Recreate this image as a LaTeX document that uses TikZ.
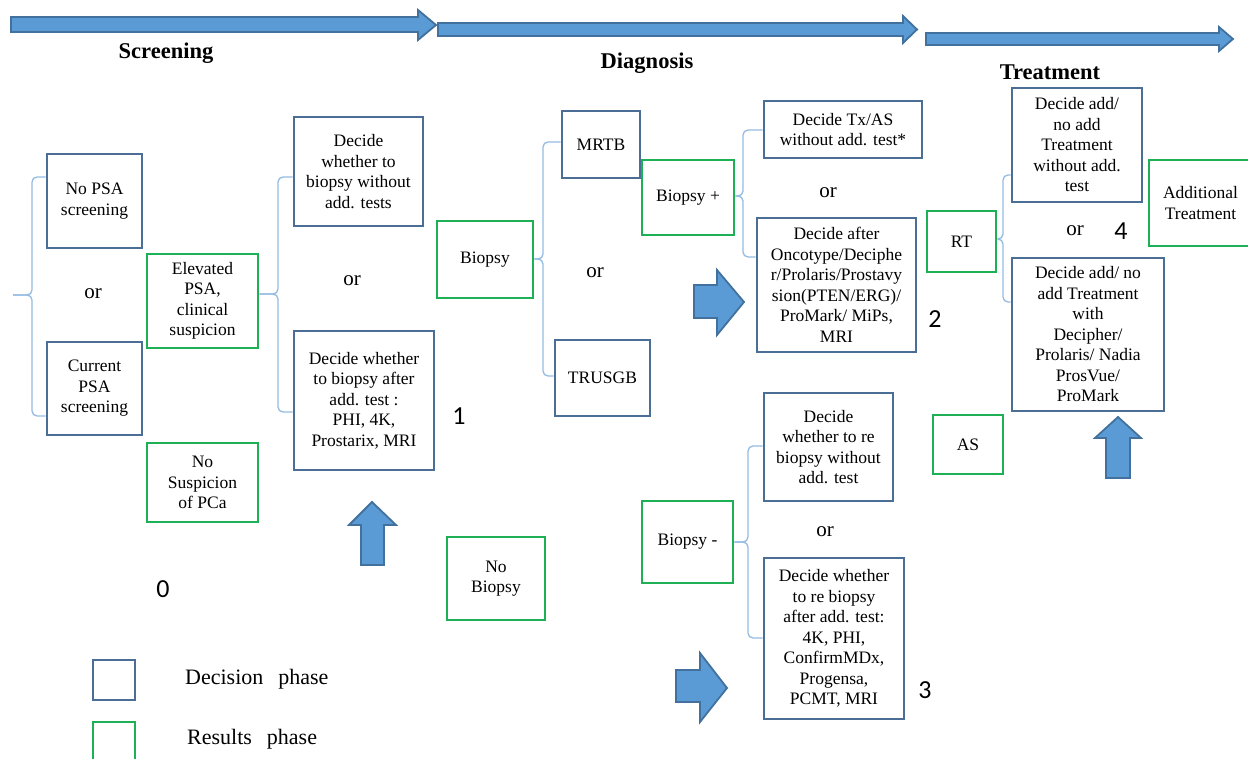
\documentclass[tikz,border=0pt]{standalone}
\usepackage{fontspec}
\setmainfont{Liberation Serif}
\newfontfamily\numfamily{Carlito}
\definecolor{decblue}{HTML}{4A6E96}
\definecolor{resgreen}{HTML}{1DB054}
\definecolor{brcblue}{HTML}{94BBE2}
\definecolor{arrfill}{HTML}{5B9BD5}
\definecolor{arredge}{HTML}{41719C}
\newcommand{\boxfs}{\fontsize{17.5}{20.5}\selectfont}
\newcommand{\orfs}{\fontsize{21}{24}\selectfont}
\newcommand{\titlefs}{\fontsize{22.5}{27}\selectfont\bfseries}
\newcommand{\numfs}{\numfamily\fontsize{26}{30}\selectfont}
\newcommand{\legfs}{\fontsize{22}{26}\selectfont}
\tikzset{
  pbox/.style={line width=2.7pt, inner sep=0pt, align=center, font=\boxfs},
  dbox/.style={pbox, draw=decblue},
  rbox/.style={pbox, draw=resgreen},
  brc/.style={draw=brcblue, line width=1.3pt, rounded corners=5pt},
  orlab/.style={font=\orfs, inner sep=0pt},
  numlab/.style={font=\numfs, inner sep=0pt},
  titlelab/.style={font=\titlefs, inner sep=0pt},
  leglab/.style={font=\legfs, inner sep=0pt, anchor=west},
  barrow/.style={fill=arrfill, draw=arredge, line width=1.8pt, line join=miter},
}
\begin{document}
\begin{tikzpicture}[x=1pt,y=-1pt]
\useasboundingbox (0,0) rectangle (1248,759);
% top phase arrows
\draw[barrow] (11,17) -- (418,17) -- (418,10) -- (436,25) -- (418,40) -- (418,32) -- (11,32) -- cycle;
\draw[barrow] (438,23) -- (903,23) -- (903,16) -- (917,29.5) -- (903,43) -- (903,36) -- (438,36) -- cycle;
\draw[barrow] (926,33) -- (1219,33) -- (1219,27) -- (1233,39) -- (1219,51) -- (1219,45) -- (926,45) -- cycle;
\node[titlelab] (tscr) at (166,53) {Screening};
\node[titlelab] (tdia) at (647,63) {Diagnosis};
\node[titlelab] (ttre) at (1050,72) {Treatment};
% boxes
\node[dbox, minimum width=95, minimum height=94] (nopsa) at (94.5,201) {No PSA\\screening};
\node[dbox, minimum width=95, minimum height=93] (curpsa) at (94.5,388.5) {Current\\PSA\\screening};
\node[rbox, minimum width=111, minimum height=94] (elev) at (202.5,301) {Elevated\\PSA,\\clinical\\suspicion};
\node[rbox, minimum width=111, minimum height=79] (nosusp) at (202.5,482.5) {No\\Suspicion\\of PCa};
\node[dbox, minimum width=129, minimum height=109] (dw1) at (358.5,171.5) {Decide\\whether to\\biopsy without\\add. tests};
\node[dbox, minimum width=140, minimum height=139] (dw2) at (364,400.5) {Decide whether\\to biopsy after\\add. test :\\PHI, 4K,\\Prostarix, MRI};
\node[rbox, minimum width=96, minimum height=77] (biopsy) at (485,259.5) {Biopsy};
\node[dbox, minimum width=78, minimum height=67] (mrtb) at (601,144.5) {MRTB};
\node[dbox, minimum width=95, minimum height=76] (trusgb) at (602.5,378) {TRUSGB};
\node[rbox, minimum width=92, minimum height=75] (bplus) at (688,197.5) {Biopsy +};
\node[dbox, minimum width=158, minimum height=57] (dtx) at (843,129.5) {Decide Tx/AS\\without add. test*};
\node[dbox, minimum width=159, minimum height=134] (dafter) at (836.5,285) {Decide after\\Oncotype/Deciphe\\r/Prolaris/Prostavy\\sion(PTEN/ERG)/\\ProMark/ MiPs,\\MRI};
\node[rbox, minimum width=69, minimum height=61] (rt) at (961.5,241.5) {RT};
\node[dbox, minimum width=130, minimum height=114] (dadd1) at (1077,145) {Decide add/\\no add\\Treatment\\without add.\\test};
\node[rbox, minimum width=103, minimum height=86] (addt) at (1200.5,203) {Additional\\Treatment};
\node[dbox, minimum width=152, minimum height=153] (dadd2) at (1088,334.5) {Decide add/ no\\add Treatment\\with\\Decipher/\\Prolaris/ Nadia\\ProsVue/\\ProMark};
\node[rbox, minimum width=70, minimum height=59] (as) at (968,444.5) {AS};
\node[dbox, minimum width=129, minimum height=108] (drb1) at (828.5,447) {Decide\\whether to re\\biopsy without\\add. test};
\node[dbox, minimum width=140, minimum height=161] (drb2) at (834,638.5) {Decide whether\\to re biopsy\\after add. test:\\4K, PHI,\\ConfirmMDx,\\Progensa,\\PCMT, MRI};
\node[rbox, minimum width=91, minimum height=82] (bminus) at (687.5,542) {Biopsy -};
\node[rbox, minimum width=98, minimum height=83] (nobiopsy) at (496,578.5) {No\\Biopsy};
% or labels
\node[orlab] (or1) at (93,294) {or};
\node[orlab] (or2) at (352,281) {or};
\node[orlab] (or3) at (595,273) {or};
\node[orlab] (or4) at (828,193) {or};
\node[orlab] (or5) at (1075,231) {or};
\node[orlab] (or6) at (825,532) {or};
% numbers
\node[numlab] (n0) at (163,589) {0};
\node[numlab] (n1) at (459,416) {1};
\node[numlab] (n2) at (935,319) {2};
\node[numlab] (n3) at (925,690) {3};
\node[numlab] (n4) at (1121,231) {4};
% braces
\coordinate (tip0) at (13,295);
\draw[brc] (tip0) -- (32,295) |- (nopsa.west |- 0,177);
\draw[brc] (tip0) -- (32,295) |- (curpsa.west |- 0,416);
\draw[brc] (elev.east |- 0,294) -- (278,294) |- (dw1.west |- 0,177);
\draw[brc] (elev.east |- 0,294) -- (278,294) |- (dw2.west |- 0,412);
\draw[brc] (biopsy.east |- 0,259) -- (543,259) |- (mrtb.west |- 0,142);
\draw[brc] (biopsy.east |- 0,259) -- (543,259) |- (trusgb.west |- 0,376);
\draw[brc] (bplus.east |- 0,196) -- (743,196) |- (dtx.west |- 0,130);
\draw[brc] (bplus.east |- 0,196) -- (743,196) |- (dafter.west |- 0,257);
\draw[brc] (rt.east |- 0,239) -- (1003,239) |- (dadd1.west |- 0,175);
\draw[brc] (rt.east |- 0,239) -- (1003,239) |- (dadd2.west |- 0,302);
\draw[brc] (bminus.east |- 0,542) -- (748,542) |- (drb1.west |- 0,446);
\draw[brc] (bminus.east |- 0,542) -- (748,542) |- (drb2.west |- 0,638);
% block arrows
\draw[barrow] (372,502) -- (396,525) -- (384,525) -- (384,565) -- (361,565) -- (361,525) -- (349,525) -- cycle;
\draw[barrow] (744,302) -- (717,335) -- (717,318) -- (694,318) -- (694,285) -- (717,285) -- (717,270) -- cycle;
\draw[barrow] (727,688) -- (700,722) -- (700,702) -- (676,702) -- (676,670) -- (700,670) -- (700,653) -- cycle;
\draw[barrow] (1118,417) -- (1141,438) -- (1130,438) -- (1130,478) -- (1106,478) -- (1106,438) -- (1095,438) -- cycle;
% legend
\node[dbox, minimum width=42, minimum height=40] (legd) at (114,680) {};
\node[rbox, minimum width=42, minimum height=42] (legr) at (114,743) {};
\node[leglab] (legdt) at (185,679) {Decision\hspace{15pt}phase};
\node[leglab] (legrt) at (187,739) {Results\hspace{15pt}phase};
\end{tikzpicture}
\end{document}
